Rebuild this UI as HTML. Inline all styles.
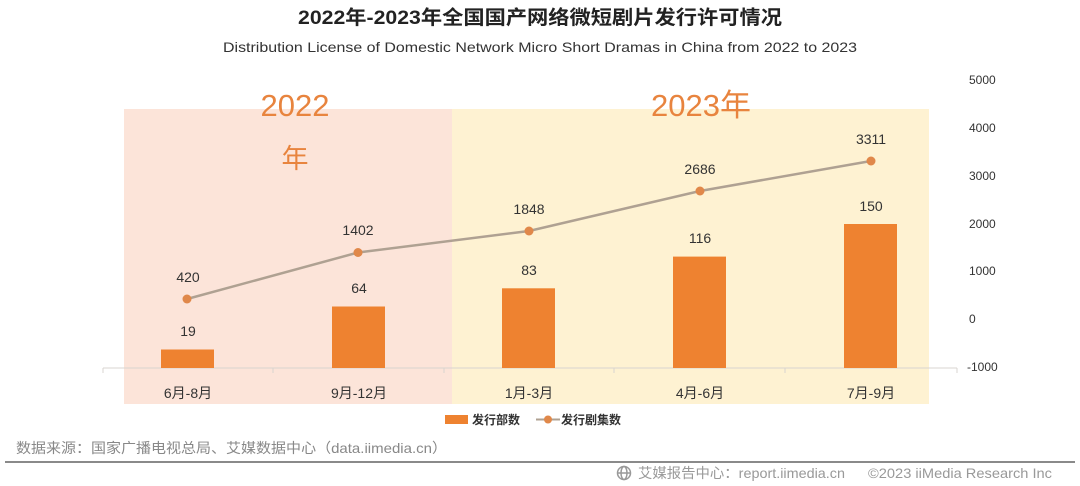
<!DOCTYPE html>
<html><head><meta charset="utf-8"><style>
html,body{margin:0;padding:0;background:#fff;}
svg{display:block;}
text{font-family:"Liberation Sans","Noto Sans CJK SC",sans-serif;}
</style></head><body>
<svg width="1080" height="486" viewBox="0 0 1080 486" xmlns="http://www.w3.org/2000/svg">
<rect width="1080" height="486" fill="#fff"/>
<text x="540" y="24" text-anchor="middle" font-size="19.5" font-weight="bold" fill="#222" textLength="484" lengthAdjust="spacingAndGlyphs">2022年-2023年全国国产网络微短剧片发行许可情况</text>
<text x="540" y="52" text-anchor="middle" font-size="14" fill="#333" textLength="634" lengthAdjust="spacingAndGlyphs">Distribution License of Domestic Network Micro Short Dramas in China from 2022 to 2023</text>
<rect x="124" y="109" width="328" height="295" fill="#FCE4D9"/>
<rect x="452" y="109" width="477" height="295" fill="#FEF2D2"/>
<text x="295" y="116" text-anchor="middle" font-size="31" fill="#E8843E">2022</text>
<text x="295" y="168" text-anchor="middle" font-size="27" fill="#E8843E">年</text>
<text x="701" y="116" text-anchor="middle" font-size="31" fill="#E8843E">2023年</text>
<g font-size="12" fill="#333">
<text x="969" y="84">5000</text>
<text x="969" y="132">4000</text>
<text x="969" y="180">3000</text>
<text x="969" y="228">2000</text>
<text x="969" y="275">1000</text>
<text x="969" y="323">0</text>
<text x="967" y="371">-1000</text>
</g>
<line x1="103" y1="368" x2="957" y2="368" stroke="#d8d4d0" stroke-width="1"/>
<g stroke="#d8d4d0" stroke-width="1">
<line x1="103" y1="368" x2="103" y2="373"/><line x1="273" y1="368" x2="273" y2="373"/><line x1="444" y1="368" x2="444" y2="373"/><line x1="614" y1="368" x2="614" y2="373"/><line x1="785" y1="368" x2="785" y2="373"/><line x1="957" y1="368" x2="957" y2="373"/>
</g>
<g fill="#EE8230">
<rect x="161" y="349.5" width="53" height="18.5"/>
<rect x="332" y="306.5" width="53" height="61.5"/>
<rect x="502" y="288.3" width="53" height="79.7"/>
<rect x="673" y="256.6" width="53" height="111.4"/>
<rect x="844" y="224" width="53" height="144"/>
</g>
<g font-size="14" fill="#333" text-anchor="middle">
<text x="188" y="336">19</text>
<text x="359" y="293">64</text>
<text x="529" y="275">83</text>
<text x="700" y="243">116</text>
<text x="871" y="211">150</text>
</g>
<polyline points="187,299 358,252.5 529,231 700,191 871,161" fill="none" stroke="#AFA192" stroke-width="2.5"/>
<g fill="#E0884A">
<circle cx="187" cy="299" r="4.5"/><circle cx="358" cy="252.5" r="4.5"/><circle cx="529" cy="231" r="4.5"/><circle cx="700" cy="191" r="4.5"/><circle cx="871" cy="161" r="4.5"/>
</g>
<g font-size="14" fill="#333" text-anchor="middle">
<text x="188" y="282">420</text>
<text x="358" y="235">1402</text>
<text x="529" y="214">1848</text>
<text x="700" y="174">2686</text>
<text x="871" y="144">3311</text>
</g>
<g font-size="14" fill="#333" text-anchor="middle">
<text x="188" y="398">6月-8月</text>
<text x="359" y="398">9月-12月</text>
<text x="529" y="398">1月-3月</text>
<text x="700" y="398">4月-6月</text>
<text x="871" y="398">7月-9月</text>
</g>
<rect x="445" y="415" width="23" height="9" fill="#EE8230"/>
<text x="472" y="424" font-size="12" font-weight="bold" fill="#333">发行部数</text>
<line x1="536" y1="419.5" x2="560" y2="419.5" stroke="#AFA192" stroke-width="2"/>
<circle cx="548" cy="419.5" r="4" fill="#E0884A"/>
<text x="561" y="424" font-size="12" font-weight="bold" fill="#333">发行剧集数</text>
<text x="16" y="453" font-size="14" fill="#888" textLength="431" lengthAdjust="spacingAndGlyphs">数据来源：国家广播电视总局、艾媒数据中心（data.iimedia.cn）</text>
<line x1="5" y1="462" x2="1075" y2="462" stroke="#8a8a8a" stroke-width="2"/>
<g fill="none" stroke="#999" stroke-width="1.5">
<circle cx="624" cy="473" r="6.5"/><ellipse cx="624" cy="473" rx="3" ry="6.5"/><line x1="617.5" y1="473" x2="630.5" y2="473"/>
</g>
<text x="638" y="478" font-size="14" fill="#999" textLength="207" lengthAdjust="spacingAndGlyphs">艾媒报告中心：report.iimedia.cn</text>
<text x="868" y="478" font-size="14" fill="#999" textLength="184" lengthAdjust="spacingAndGlyphs">©2023  iiMedia Research Inc</text>
</svg>
</body></html>
